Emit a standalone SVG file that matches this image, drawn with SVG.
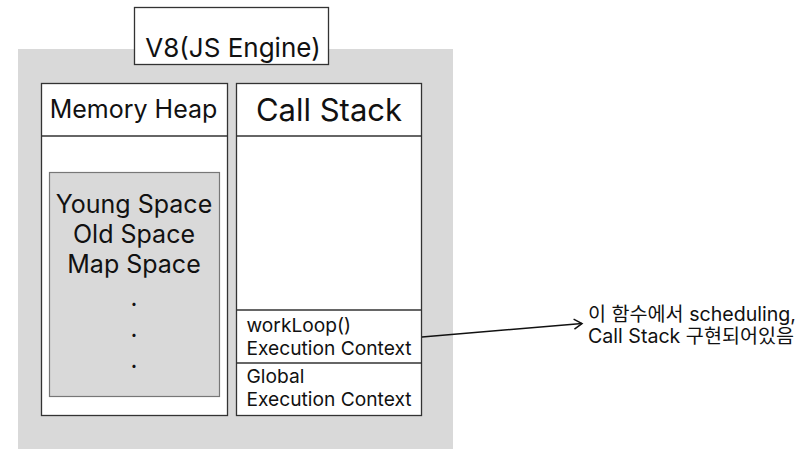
<svg xmlns="http://www.w3.org/2000/svg" width="800" height="469" viewBox="0 0 800 469">
<style>
.box{fill:#fff;stroke:#333;stroke-width:1.3}
.t{font-family:Inter,"Noto Sans CJK KR","Noto Sans",sans-serif;fill:#111}
.ln{stroke:#333;stroke-width:1.3;fill:none}
</style>
<defs>
<marker id="ah" markerWidth="12" markerHeight="12" refX="10" refY="6" orient="auto" markerUnits="userSpaceOnUse">
<path d="M2,1 L10,6 L2,11" fill="none" stroke="#111" stroke-width="1.5"/>
</marker>
</defs>
<rect width="800" height="469" fill="#fff"/>
<g id="engine">
<rect x="18" y="49" width="435" height="400" fill="#d9d9d9"/>
<rect class="box" x="134.5" y="7.5" width="194" height="57"/>
<text class="t" x="233" y="57" font-size="26" text-anchor="middle">V8(JS Engine)</text>
</g>
<g id="memory-heap">
<rect class="box" x="41.5" y="83.5" width="186" height="332"/>
<line class="ln" x1="41.5" y1="136" x2="227.5" y2="136"/>
<text class="t" x="133.5" y="118" font-size="25" text-anchor="middle">Memory Heap</text>
<rect x="49.5" y="172.5" width="170" height="224" fill="#d9d9d9" stroke="#777" stroke-width="1.2"/>
<text class="t" x="134" y="213" font-size="25" text-anchor="middle">Young Space</text>
<text class="t" x="134" y="243" font-size="25" text-anchor="middle">Old Space</text>
<text class="t" x="134" y="273" font-size="25" text-anchor="middle">Map Space</text>
<text class="t" x="134" y="306" font-size="24" text-anchor="middle">.</text>
<text class="t" x="134" y="337" font-size="24" text-anchor="middle">.</text>
<text class="t" x="134" y="368" font-size="24" text-anchor="middle">.</text>
</g>
<g id="call-stack">
<rect class="box" x="236.5" y="83.5" width="185" height="332"/>
<line class="ln" x1="236.5" y1="136" x2="421.5" y2="136"/>
<text class="t" x="329" y="121" font-size="31" text-anchor="middle">Call Stack</text>
<line class="ln" x1="236.5" y1="310" x2="421.5" y2="310"/>
<line class="ln" x1="236.5" y1="363" x2="421.5" y2="363"/>
<text class="t" x="246.5" y="332" font-size="19.2">workLoop()</text>
<text class="t" x="246.5" y="355" font-size="19.2">Execution Context</text>
<text class="t" x="246.5" y="383" font-size="19.2">Global</text>
<text class="t" x="246.5" y="406" font-size="19.2">Execution Context</text>
</g>
<g id="connectors">
<line x1="422" y1="337" x2="582" y2="323.5" stroke="#111" stroke-width="1.5" marker-end="url(#ah)"/>
</g>
<g id="note">
<text class="t" x="588" y="321" font-size="19.6">이 함수에서 scheduling,</text>
<text class="t" x="588" y="343" font-size="19.6">Call Stack 구현되어있음</text>
</g>
</svg>
